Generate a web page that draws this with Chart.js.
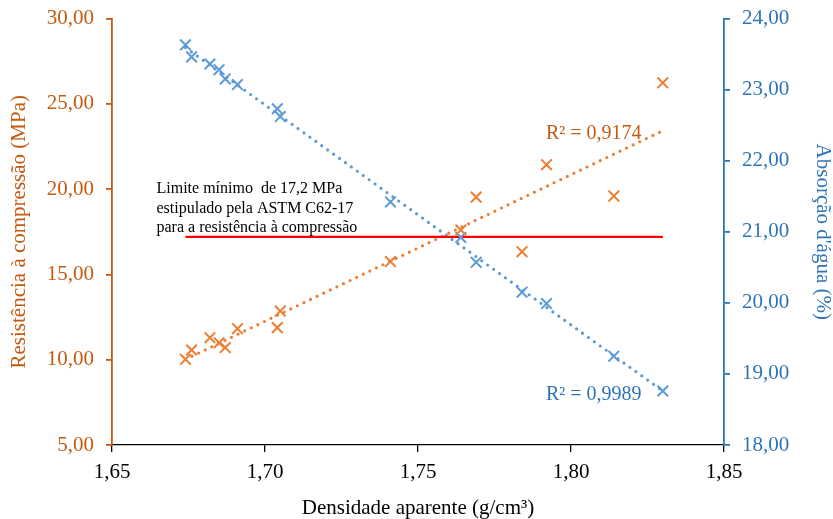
<!DOCTYPE html>
<html>
<head>
<meta charset="utf-8">
<script src="https://cdn.jsdelivr.net/npm/chart.js@4.4.1/dist/chart.umd.min.js"></script>
<style>
  html, body { margin: 0; padding: 0; background: #fff; }
  #chart { display: block; }
</style>
</head>
<body>
<canvas id="chart" width="833" height="519"></canvas>
<script>
// values
const density = [1.674, 1.676, 1.682, 1.685, 1.687, 1.691, 1.704, 1.705, 1.741, 1.764, 1.769, 1.784, 1.792, 1.814, 1.830]
const strength = [10.02, 10.57, 11.29, 11.00, 10.71, 11.82, 11.88, 12.85, 15.75, 17.60, 19.53, 16.33, 21.43, 19.59, 26.23]
const absorption = [23.63, 23.46, 23.36, 23.28, 23.15, 23.07, 22.73, 22.62, 21.42, 20.92, 20.57, 20.15, 19.99, 19.25, 18.76]
const limitValue = 17.2
const limitRange = [1.674, 1.830]
const noteLines = ['Limite mínimo  de 17,2 MPa', 'estipulado pela ASTM C62-17', 'para a resistência à compressão']
const r2Strength = 'R² = 0,9174'
const r2Absorption = 'R² = 0,9989'

const orange = '#ED7D31'
const orangeDark = '#C55A11'
const blue = '#5B9BD5'
const blueDark = '#2E75B6'
const serif = "'Liberation Serif', 'Times New Roman', serif"

const toPoints = (xs, ys) => xs.map((x, i) => ({ x: x, y: ys[i] }))

// least squares line through the points, drawn from first to last x
function trend(xs, ys) {
  let n = xs.length, sx = 0, sy = 0, sxx = 0, sxy = 0
  for (let i = 0; i < n; i++) {
    sx += xs[i]; sy += ys[i]; sxx += xs[i] * xs[i]; sxy += xs[i] * ys[i]
  }
  let b = (n * sxy - sx * sy) / (n * sxx - sx * sx)
  let a = (sy - b * sx) / n
  let x0 = Math.min(...xs), x1 = Math.max(...xs)
  return [{ x: x0, y: a + b * x0 }, { x: x1, y: a + b * x1 }]
}

const comma = v => Number(v).toFixed(2).replace('.', ',')

const textPlugin = {
  id: 'notes',
  afterDatasetsDraw(chart) {
    let ctx = chart.ctx
    ctx.save()
    ctx.textBaseline = 'alphabetic'
    ctx.textAlign = 'left'
    ctx.fillStyle = '#000'
    ctx.font = '16px ' + serif
    noteLines.forEach((t, i) => ctx.fillText(t, 156.5, 193 + i * 19.5))
    ctx.font = '20px ' + serif
    ctx.fillStyle = orangeDark
    ctx.fillText(r2Strength, 546, 139)
    ctx.fillStyle = blueDark
    ctx.fillText(r2Absorption, 546, 400)
    ctx.restore()
  }
}

// fixed axis boxes so the plot area sits where the reference has it
const fitY = w => s => { s.width = w; s.paddingTop = 0; s.paddingBottom = 0 }

new Chart(document.getElementById('chart'), {
  type: 'scatter',
  data: {
    datasets: [
      {
        data: toPoints(density, strength), yAxisID: 'y',
        pointStyle: 'crossRot', pointRadius: 7.5, borderColor: orange, backgroundColor: orange, pointBorderWidth: 2
      },
      {
        data: toPoints(density, absorption), yAxisID: 'y1',
        pointStyle: 'crossRot', pointRadius: 7.5, borderColor: blue, backgroundColor: blue, pointBorderWidth: 2
      },
      {
        type: 'line', data: [{ x: limitRange[0], y: limitValue }, { x: limitRange[1], y: limitValue }], yAxisID: 'y',
        borderColor: '#FF0000', borderWidth: 2.2, pointRadius: 0
      },
      {
        type: 'line', data: trend(density, strength), yAxisID: 'y',
        borderColor: orange, borderWidth: 3.2, borderDash: [0, 7.3], borderCapStyle: 'round', pointRadius: 0
      },
      {
        type: 'line', data: trend(density, absorption), yAxisID: 'y1',
        borderColor: blue, borderWidth: 3.2, borderDash: [0, 7.3], borderCapStyle: 'round', pointRadius: 0
      }
    ]
  },
  options: {
    responsive: false,
    animation: false,
    layout: { padding: { top: 18.5, left: 0, right: 0, bottom: 0 } },
    plugins: { legend: { display: false }, tooltip: { enabled: false } },
    scales: {
      x: {
        type: 'linear', min: 1.65, max: 1.85,
        afterFit: s => { s.height = 74; s.paddingLeft = 0; s.paddingRight = 0 },
        grid: { drawOnChartArea: false, drawTicks: true, tickLength: 7, color: '#000', lineWidth: 1.3 },
        border: { color: '#000', width: 1.3 },
        ticks: { stepSize: 0.05, padding: 8, color: '#000', font: { family: serif, size: 21 }, callback: comma },
        title: { display: true, text: 'Densidade aparente (g/cm³)', color: '#000', font: { family: serif, size: 21, lineHeight: 1 }, padding: { top: 0, bottom: 0 } }
      },
      y: {
        position: 'left', min: 5, max: 30,
        afterFit: fitY(112),
        grid: { drawOnChartArea: false, drawTicks: true, tickLength: 6, color: orangeDark, lineWidth: 1.8 },
        border: { color: orangeDark, width: 1.8 },
        ticks: { stepSize: 5, padding: 12, color: orangeDark, font: { family: serif, size: 21 }, callback: comma },
        title: { display: true, text: 'Resistência à compressão (MPa)', color: orangeDark, font: { family: serif, size: 21, lineHeight: 1 }, padding: { top: 9, bottom: 0 } }
      },
      y1: {
        position: 'right', min: 18, max: 24,
        afterFit: fitY(109),
        grid: { drawOnChartArea: false, drawTicks: true, tickLength: 6, color: blueDark, lineWidth: 1.8 },
        border: { color: blueDark, width: 1.8 },
        ticks: { stepSize: 1, padding: 12, color: blueDark, font: { family: serif, size: 21 }, callback: comma },
        title: { display: true, text: "Absorção d'água (%)", color: blueDark, font: { family: serif, size: 21, lineHeight: 1 }, padding: { top: 0, bottom: 0 } }
      }
    }
  },
  plugins: [textPlugin]
})
</script>
</body>
</html>
